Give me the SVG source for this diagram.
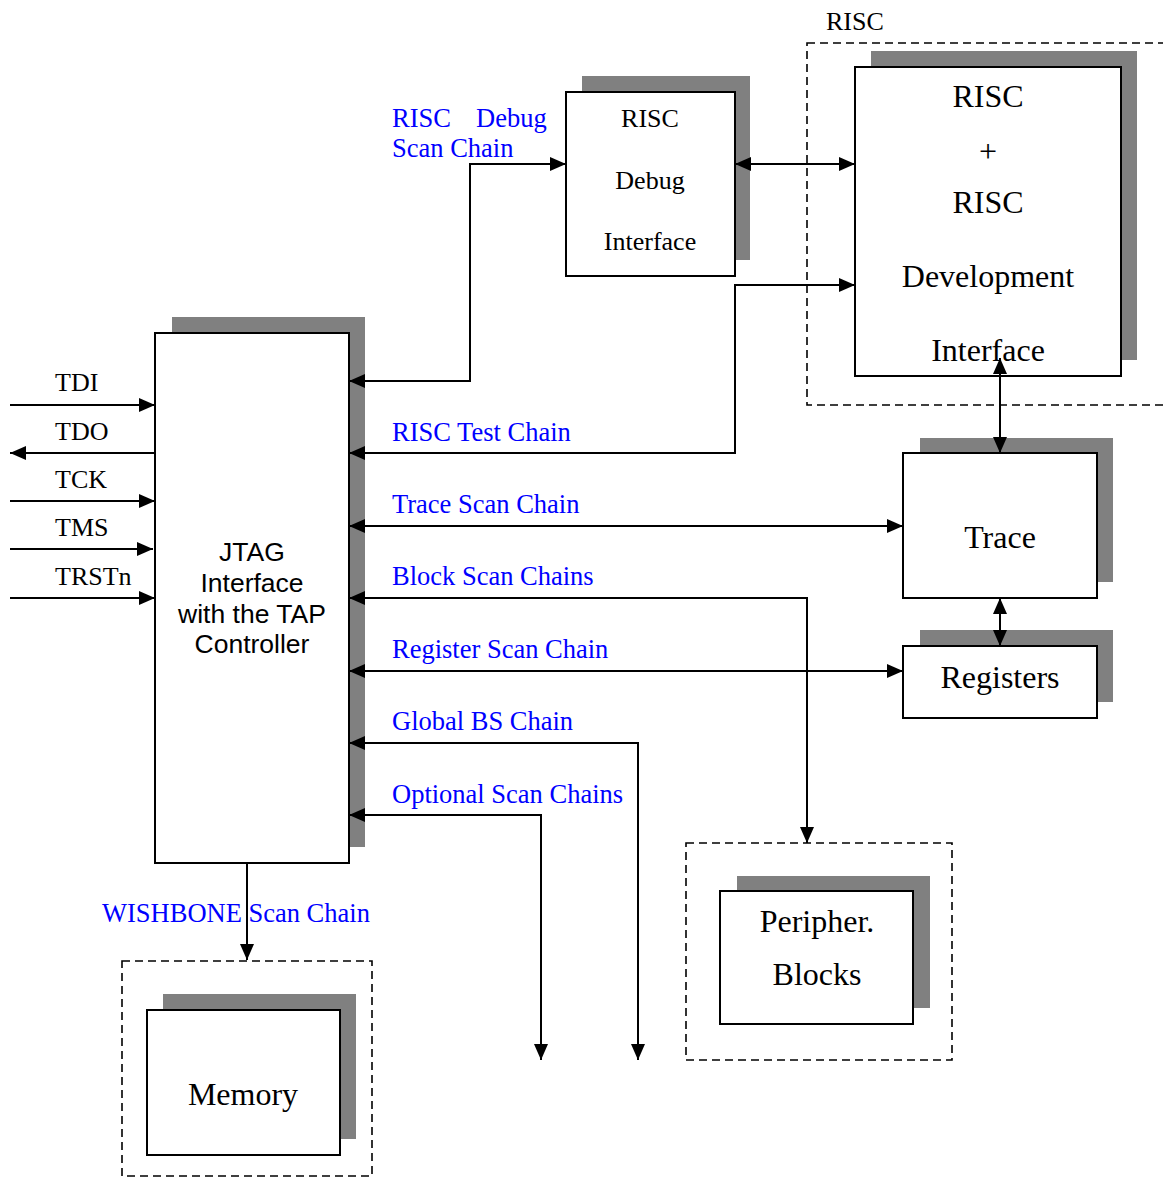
<svg xmlns="http://www.w3.org/2000/svg" width="1163" height="1178" viewBox="0 0 1163 1178">
<defs>
<style>
.box{fill:#fff;stroke:#000;stroke-width:2}
.sh{fill:#808080}
.dash{fill:none;stroke:#000;stroke-width:1.6;stroke-dasharray:8,5}
.c{fill:none;stroke:#000;stroke-width:2}
.t{font-family:"Liberation Serif","Times New Roman",serif;font-size:26px;fill:#000}
.big{font-family:"Liberation Serif","Times New Roman",serif;font-size:32px;fill:#000;text-anchor:middle}
.mid{font-family:"Liberation Serif","Times New Roman",serif;font-size:26px;fill:#000;text-anchor:middle}
.bl{font-family:"Liberation Serif","Times New Roman",serif;font-size:26.5px;fill:#0000ff}
.ar{font-family:"Liberation Sans",Arial,sans-serif;font-size:26.5px;fill:#000;text-anchor:middle}
</style>
<marker id="a" markerUnits="userSpaceOnUse" markerWidth="17" markerHeight="15" refX="16" refY="7" orient="auto-start-reverse">
<path d="M0,0 L16,7 L0,14 z" fill="#000"/>
</marker>
</defs>
<rect width="1163" height="1178" fill="#fff"/>

<g id="risc-group">
<rect class="dash" x="807" y="43" width="400" height="362"/>
<text class="t" x="826" y="30">RISC</text>
</g>
<g id="memory-group">
<rect class="dash" x="122" y="961" width="250" height="215"/>
</g>
<g id="periph-group">
<rect class="dash" x="686" y="843" width="266" height="217"/>
</g>

<g id="jtag">
<rect class="sh" x="172" y="317" width="193" height="530"/>
<rect class="box" x="155" y="333" width="194" height="530"/>
<text class="ar" x="252" y="561">JTAG</text>
<text class="ar" x="252" y="592">Interface</text>
<text class="ar" x="252" y="623">with the TAP</text>
<text class="ar" x="252" y="653">Controller</text>
</g>

<g id="risc-debug">
<rect class="sh" x="582" y="76" width="168" height="184"/>
<rect class="box" x="566" y="92" width="169" height="184"/>
<text class="mid" x="650" y="127">RISC</text>
<text class="mid" x="650" y="189">Debug</text>
<text class="mid" x="650" y="250">Interface</text>
</g>

<g id="risc">
<rect class="sh" x="871" y="51" width="266" height="309"/>
<rect class="box" x="855" y="67" width="266" height="309"/>
<text class="big" x="988" y="107">RISC</text>
<text class="big" x="988" y="162">+</text>
<text class="big" x="988" y="213">RISC</text>
<text class="big" x="988" y="287">Development</text>
<text class="big" x="988" y="361">Interface</text>
</g>

<g id="trace">
<rect class="sh" x="920" y="438" width="193" height="144"/>
<rect class="box" x="903" y="453" width="194" height="145"/>
<text class="big" x="1000" y="548">Trace</text>
</g>

<g id="registers">
<rect class="sh" x="920" y="630" width="193" height="72"/>
<rect class="box" x="903" y="646" width="194" height="72"/>
<text class="big" x="1000" y="688">Registers</text>
</g>

<g id="memory">
<rect class="sh" x="163" y="994" width="193" height="145"/>
<rect class="box" x="147" y="1010" width="193" height="145"/>
<text class="big" x="243" y="1105">Memory</text>
</g>

<g id="periph">
<rect class="sh" x="737" y="876" width="193" height="132"/>
<rect class="box" x="720" y="891" width="193" height="133"/>
<text class="big" x="817" y="932">Peripher.</text>
<text class="big" x="817" y="985">Blocks</text>
</g>

<g id="connectors">
<path class="c" d="M10,405 H155" marker-end="url(#a)"/>
<path class="c" d="M155,453 H10" marker-end="url(#a)"/>
<path class="c" d="M10,501 H155" marker-end="url(#a)"/>
<path class="c" d="M10,549 H153" marker-end="url(#a)"/>
<path class="c" d="M10,598 H155" marker-end="url(#a)"/>

<path class="c" d="M349,381 H470 V164 H566" marker-start="url(#a)" marker-end="url(#a)"/>
<path class="c" d="M735,164 H855" marker-start="url(#a)" marker-end="url(#a)"/>
<path class="c" d="M349,453 H735 V285 H855" marker-start="url(#a)" marker-end="url(#a)"/>
<path class="c" d="M1000,358 V453" marker-start="url(#a)" marker-end="url(#a)"/>
<path class="c" d="M349,526 H903" marker-start="url(#a)" marker-end="url(#a)"/>
<path class="c" d="M1000,598 V646" marker-start="url(#a)" marker-end="url(#a)"/>
<path class="c" d="M349,598 H807 V843" marker-start="url(#a)" marker-end="url(#a)"/>
<path class="c" d="M349,671 H903" marker-start="url(#a)" marker-end="url(#a)"/>
<path class="c" d="M349,743 H638 V1060" marker-start="url(#a)" marker-end="url(#a)"/>
<path class="c" d="M349,815 H541 V1060" marker-start="url(#a)" marker-end="url(#a)"/>
<path class="c" d="M247,863 V960" marker-end="url(#a)"/>
</g>

<g id="labels">
<text class="t" x="55" y="391">TDI</text>
<text class="t" x="55" y="440">TDO</text>
<text class="t" x="55" y="488">TCK</text>
<text class="t" x="55" y="536">TMS</text>
<text class="t" x="55" y="585">TRSTn</text>
<text class="bl" y="127"><tspan x="392">RISC</tspan><tspan x="476">Debug</tspan></text>
<text class="bl" x="392" y="157">Scan Chain</text>
<text class="bl" x="392" y="441">RISC Test Chain</text>
<text class="bl" x="392" y="513">Trace Scan Chain</text>
<text class="bl" x="392" y="585">Block Scan Chains</text>
<text class="bl" x="392" y="658">Register Scan Chain</text>
<text class="bl" x="392" y="730">Global BS Chain</text>
<text class="bl" x="392" y="803">Optional Scan Chains</text>
<text class="bl" x="102" y="922">WISHBONE Scan Chain</text>
</g>
</svg>
